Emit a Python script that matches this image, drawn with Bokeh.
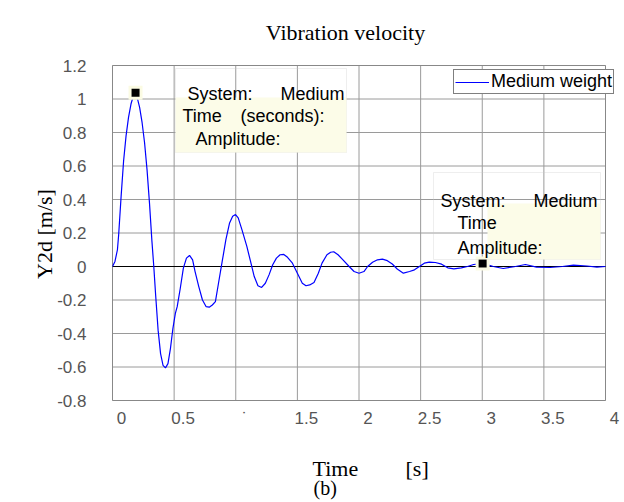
from bokeh.plotting import figure
from bokeh.models import (Range1d, Label, LabelSet, ColumnDataSource, BoxAnnotation)
from bokeh.embed import file_html
from bokeh.resources import INLINE
from bokeh.core.properties import value

# ---------------- data ----------------
time_s = [0.00, 0.02, 0.04, 0.05, 0.07, 0.09, 0.11, 0.13, 0.15, 0.17, 0.185, 0.20,
          0.22, 0.24, 0.26, 0.28, 0.30, 0.32, 0.335, 0.35, 0.37, 0.39, 0.41, 0.43,
          0.45, 0.47, 0.49, 0.51, 0.525, 0.55, 0.575, 0.60, 0.625, 0.65, 0.67, 0.70,
          0.73, 0.76, 0.785, 0.81, 0.835, 0.86, 0.89, 0.92, 0.95, 0.975, 0.998, 1.02,
          1.05, 1.09, 1.12, 1.15, 1.18, 1.21, 1.24, 1.27, 1.30, 1.33, 1.36, 1.39,
          1.42, 1.46, 1.50, 1.54, 1.57, 1.60, 1.635, 1.67, 1.70, 1.74, 1.77, 1.795,
          1.83, 1.87, 1.92, 1.96, 2.00, 2.04, 2.07, 2.11, 2.15, 2.19, 2.23, 2.27,
          2.31, 2.36, 2.41, 2.45, 2.49, 2.53, 2.57, 2.62, 2.67, 2.72, 2.77, 2.83,
          2.88, 2.93, 3.00, 3.05, 3.09, 3.17, 3.27, 3.35, 3.44, 3.55, 3.65, 3.74,
          3.85, 3.93, 4.00]
velocity = [0.00, 0.03, 0.10, 0.19, 0.42, 0.63, 0.78, 0.89, 0.97, 1.02, 1.03, 1.01,
            0.95, 0.86, 0.74, 0.58, 0.38, 0.15, 0.00, -0.17, -0.38, -0.52, -0.59, -0.605,
            -0.58, -0.49, -0.37, -0.28, -0.24, -0.13, -0.01, 0.05, 0.066, 0.04, -0.03, -0.12,
            -0.20, -0.24, -0.243, -0.23, -0.21, -0.10, 0.03, 0.16, 0.26, 0.30, 0.31, 0.29,
            0.22, 0.12, 0.03, -0.06, -0.115, -0.125, -0.10, -0.05, 0.01, 0.05, 0.07, 0.072,
            0.055, 0.02, -0.04, -0.10, -0.115, -0.11, -0.095, -0.04, 0.02, 0.07, 0.085, 0.088,
            0.07, 0.04, 0.00, -0.03, -0.04, -0.03, 0.00, 0.025, 0.040, 0.044, 0.035, 0.015,
            -0.015, -0.040, -0.030, -0.020, 0.00, 0.02, 0.026, 0.024, 0.014, -0.008, -0.014, -0.008,
            0.000, 0.012, 0.018, 0.008, 0.000, -0.012, 0.000, 0.012, -0.004, -0.006, 0.000, 0.008,
            0.003, -0.004, 0.000]

x_ticks = [0, 0.5, 1, 1.5, 2, 2.5, 3, 3.5, 4]
x_tick_labels = ["0", "0.5", "\u02d9", "1.5", "2", "2.5", "3", "3.5", "4"]
y_ticks = [-0.8, -0.6, -0.4, -0.2, 0, 0.2, 0.4, 0.6, 0.8, 1, 1.2]
y_tick_labels = ["-0.8", "-0.6", "-0.4", "-0.2", "0", "0.2", "0.4", "0.6", "0.8", "1", "1.2"]

tip_time = [0.187, 3.003]
tip_value = [1.037, 0.018]

series_name = "Medium weight"
title_text = "Vibration velocity"
x_label_words = ["Time", "[s]"]
y_label_text = "Y2d [m/s]"
caption_text = "(b)"
tip_lines = ["System:", "Medium", "Time", "(seconds):", "Amplitude:"]

# ---------------- layout (pixels) ----------------
W, H = 624, 502
FRAME_L, FRAME_R, FRAME_T, FRAME_B = 112, 605, 65, 400
SANS = "Liberation Sans"
SERIF = "Liberation Serif"

xs = (FRAME_R - FRAME_L) / (x_ticks[-1] - x_ticks[0])
ys = (FRAME_B - FRAME_T) / (y_ticks[-1] - y_ticks[0])
x_start = x_ticks[0] - FRAME_L / xs
y_end = y_ticks[-1] + FRAME_T / ys


def px2x(px):
    return x_start + px / xs


def px2y(py):
    return y_end - py / ys


# the plot area covers the whole canvas so that no text is clipped
p = figure(width=W, height=H,
           x_range=Range1d(x_start, x_start + W / xs),
           y_range=Range1d(y_end - H / ys, y_end),
           x_axis_type=None, y_axis_type=None,
           output_backend="svg", toolbar_location=None, min_border=0)
p.outline_line_color = None
p.background_fill_color = "white"
p.border_fill_color = "white"

# grid lines (bounded to the axes box)
GRID = "#9a9a9a"
p.segment(x0=x_ticks, x1=x_ticks, y0=[y_ticks[0]] * len(x_ticks),
          y1=[y_ticks[-1]] * len(x_ticks), line_color=GRID, line_width=1)
p.segment(x0=[x_ticks[0]] * len(y_ticks), x1=[x_ticks[-1]] * len(y_ticks),
          y0=y_ticks, y1=y_ticks, line_color=GRID, line_width=1)
# zero line
p.segment(x0=[x_ticks[0]], x1=[x_ticks[-1]], y0=[0], y1=[0], line_color="black",
          line_width=1)

# curve
p.line(time_s, velocity, line_color="#0000ff", line_width=1.2, legend_label=series_name)

# data-tip markers
p.scatter(tip_time, tip_value, marker="square", size=14, fill_color="#fbfbe3",
          line_color=None)
p.scatter(tip_time, tip_value, marker="square", size=8, fill_color="black",
          line_color=None)

# axes box
p.add_layout(BoxAnnotation(left=x_ticks[0], right=x_ticks[-1], bottom=y_ticks[0],
                           top=y_ticks[-1], fill_color=None, line_color="#606060",
                           line_width=1))

# legend
lg = p.legend[0]
lg.location = (453, H - 94)
lg.label_text_font = SANS
lg.label_text_font_size = "18px"
lg.label_text_color = "black"
lg.border_line_color = "black"
lg.border_line_width = 1
lg.background_fill_color = "white"
lg.background_fill_alpha = 1
lg.padding = 1
lg.spacing = 0
lg.margin = 0
lg.glyph_width = 34
lg.glyph_height = 20
lg.label_height = 20
lg.label_standoff = 2

# tick labels
xt_src = ColumnDataSource(dict(x=x_ticks, text=x_tick_labels))
p.add_layout(LabelSet(x="x", y=px2y(423), text="text", source=xt_src,
                      text_font=value(SANS), text_font_size=value("17px"),
                      text_color="#555555", text_align="center",
                      text_baseline="alphabetic", x_offset=9))
yt_src = ColumnDataSource(dict(y=y_ticks, text=y_tick_labels))
p.add_layout(LabelSet(x=px2x(86), y="y", text="text", source=yt_src,
                      text_font=value(SANS), text_font_size=value("17px"),
                      text_color="#555555", text_align="right",
                      text_baseline="middle"))


# data tip boxes
def tip_box(l, r, t, b, yl, yt):
    p.add_layout(BoxAnnotation(left=px2x(l), right=px2x(r), top=px2y(t), bottom=px2y(b),
                               fill_color=None, line_color="#c8c8c8", line_width=1))
    p.add_layout(BoxAnnotation(left=px2x(yl), right=px2x(r), top=px2y(yt),
                               bottom=px2y(b), fill_color="#fcfce8", fill_alpha=1,
                               line_color=None))


tip_box(175, 346, 68, 152, 175, 97)
tip_box(433, 600, 172, 259, 487, 203)


def add_label(px, py, text, font=SANS, size="18px", align="left", angle=0,
              baseline="alphabetic", color="black"):
    p.add_layout(Label(x=px2x(px), y=px2y(py), text=text, text_font=font,
                       text_font_size=size, text_align=align, text_baseline=baseline,
                       angle=angle, text_color=color))


# tip 1 texts
add_label(187, 93, tip_lines[0])
add_label(280, 93, tip_lines[1])
add_label(182, 115, tip_lines[2])
add_label(240, 115, tip_lines[3])
add_label(195, 138, tip_lines[4])
# tip 2 texts
add_label(440, 200, tip_lines[0])
add_label(533, 200, tip_lines[1])
add_label(457, 222, tip_lines[2])
add_label(457, 247, tip_lines[4])

# title, axis labels and caption
add_label(345, 32, title_text, font=SERIF, size="22px", align="center")
add_label(312, 468, x_label_words[0], font=SERIF, size="22px")
add_label(405, 468, x_label_words[1], font=SERIF, size="22px")
add_label(313, 487, caption_text, font=SERIF, size="20px")
add_label(44, 233.5, y_label_text, font=SERIF, size="22px", align="center",
          angle=1.5707963)

open("out.html", "w").write(file_html(p, INLINE))
